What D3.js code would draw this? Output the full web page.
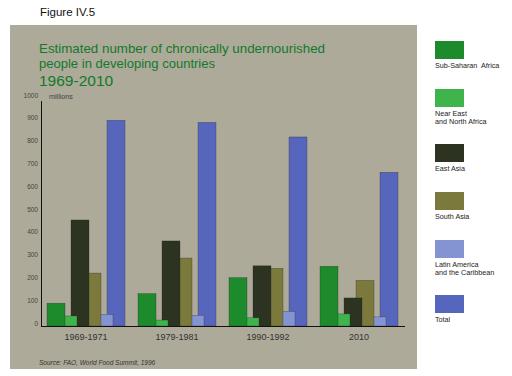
<!DOCTYPE html>
<html><head><meta charset="utf-8">
<script src="https://cdn.jsdelivr.net/npm/d3@7/dist/d3.min.js"></script>
<style>body{margin:0;background:#fff;} svg{display:block;font-family:"Liberation Sans",Arial,sans-serif;}</style>
</head><body><svg id="c" width="512" height="376"></svg>
<script>
const periods = ["1969-1971", "1979-1981", "1990-1992", "2010"];
const seriesNames = ["Sub-Saharan  Africa", "Near East\nand North Africa", "East Asia", "South Asia", "Latin America\nand the Caribbean", "Total"];
const subSaharanAfrica = [100, 142, 212, 262];
const nearEastNorthAfrica = [44, 26, 36, 53];
const eastAsia = [465, 373, 264, 123];
const southAsia = [232, 298, 253, 200];
const latinAmerica = [51, 47, 64, 40];
const total = [902, 893, 829, 674];
const yTicks = [0, 100, 200, 300, 400, 500, 600, 700, 800, 900, 1000];
const colors = ["#1d8a2c", "#3fb34c", "#2c3320", "#7b7a3c", "#8494d2", "#5666bc"];
const values = [subSaharanAfrica, nearEastNorthAfrica, eastAsia, southAsia, latinAmerica, total];

const svg = d3.select("#c");
svg.append("rect").attr("x", 10).attr("y", 25).attr("width", 407).attr("height", 344).attr("fill", "#adaa9a");

svg.append("text").attr("x", 40).attr("y", 16).attr("font-size", 11.5).attr("fill", "#111").text("Figure IV.5");

const title = svg.append("g").attr("fill", "#13792a");
title.append("text").attr("x", 39).attr("y", 53).attr("font-size", 13).attr("textLength", 286).attr("lengthAdjust", "spacingAndGlyphs").text("Estimated number of chronically undernourished");
title.append("text").attr("x", 39).attr("y", 68).attr("font-size", 13).attr("textLength", 176).attr("lengthAdjust", "spacingAndGlyphs").text("people in developing countries");
title.append("text").attr("x", 39).attr("y", 86).attr("font-size", 15.5).text("1969-2010");

const y = d3.scaleLinear().domain([0, 1000]).range([326, 98]);
const x = d3.scaleBand().domain(periods).range([47, 398]).paddingInner(13 / 91).paddingOuter(0);
const xs = d3.scalePoint().domain(d3.range(6)).range([0, 60]);
const bw = 18;

// y tick labels
svg.append("g").selectAll("text").data(yTicks).join("text")
  .attr("x", 38).attr("y", d => y(d) - 0.5).attr("text-anchor", "end").attr("font-size", 6.5)
  .attr("fill", "#444").text(d => d);
svg.append("text").attr("x", 49).attr("y", 98.5).attr("font-size", 7.2).attr("fill", "#444").text("millions");

// bars, drawn back to front
const order = [5, 4, 3, 2, 1, 0];
const gb = svg.append("g");
order.forEach(si => {
  gb.append("g").selectAll("rect").data(periods).join("rect")
    .attr("x", (p) => x(p) + xs(si))
    .attr("y", (p, i) => y(values[si][i]))
    .attr("width", bw)
    .attr("height", (p, i) => y(0) - y(values[si][i]))
    .attr("fill", colors[si])
    .attr("stroke", "#2a2a2a").attr("stroke-width", 0.5).attr("stroke-opacity", 0.6);
});

// axes lines
svg.append("line").attr("x1", 41.5).attr("x2", 41.5).attr("y1", 101).attr("y2", 326.5).attr("stroke", "#111").attr("stroke-width", 1);
svg.append("line").attr("x1", 41).attr("x2", 405).attr("y1", 326.5).attr("y2", 326.5).attr("stroke", "#111").attr("stroke-width", 1);

// x labels
svg.append("g").selectAll("text").data(periods).join("text")
  .attr("x", d => x(d) + x.bandwidth() / 2).attr("y", 340).attr("text-anchor", "middle")
  .attr("font-size", 9).attr("fill", "#333").text(d => d);

svg.append("text").attr("x", 39).attr("y", 365).attr("font-size", 6.5).attr("font-style", "italic")
  .attr("fill", "#333").text("Source: FAO, World Food Summit, 1996");

// legend
const lg = svg.append("g");
let ly = 41;
seriesNames.forEach((name, i) => {
  const lines = name.split("\n");
  lg.append("rect").attr("x", 435).attr("y", ly).attr("width", 29).attr("height", 18).attr("fill", colors[i]);
  lines.forEach((ln, k) => {
    lg.append("text").attr("x", 435).attr("y", ly + 26.5 + k * 8.5).attr("font-size", 7.2).attr("fill", "#222")
      .attr("xml:space", "preserve").style("white-space", "pre").text(ln);
  });
  ly += 48 + 7 * (lines.length - 1);
});
</script></body></html>
